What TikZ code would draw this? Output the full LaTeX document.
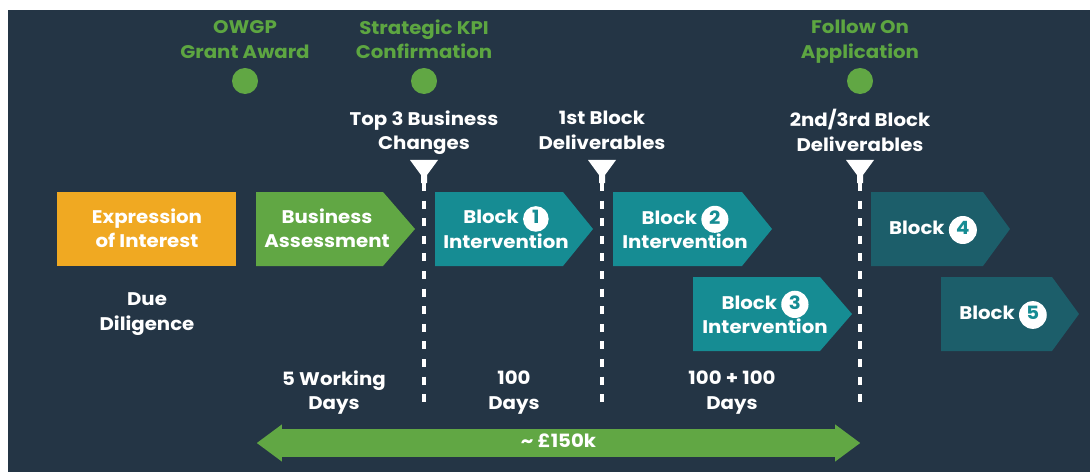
\documentclass[tikz,border=0pt]{standalone}
\usepackage{fontspec}
\setmainfont{Poppins}[FakeStretch=1.08]
\usetikzlibrary{shapes.arrows}

\definecolor{navy}{HTML}{243545}
\definecolor{eoiorange}{HTML}{F0A922}
\definecolor{mgreen}{HTML}{61A744}
\definecolor{gtext}{HTML}{5DA641}
\definecolor{bteal}{HTML}{168C93}
\definecolor{bdark}{HTML}{1C5E6A}

\tikzset{>=latex}
\tikzset{
  txt/.style={align=center, inner sep=0pt, font=\fontsize{13}{17.5}\selectfont\bfseries,
    execute at begin node=\strut, execute at end node=\strut},
  lbl/.style={txt, text=white},
  ms/.style={txt, text=gtext},
  dot/.style={circle, fill=mgreen, minimum size=0.65cm, inner sep=0pt},
  tick/.style={white, line width=0.1cm, dash pattern=on 0.2cm off 0.24cm},
}
% white disc with the block number
\newcommand{\blocknum}[2]{\tikz[baseline=(n.base)]\node[circle, fill=white, inner sep=0pt, minimum size=0.58cm, text=#1] (n) {#2};}

\begin{document}
\begin{tikzpicture}[x=0.025cm, y=-0.025cm]
  \useasboundingbox (0,0) rectangle (1090,472);
  \fill[navy] (8,10) rectangle (1090,472);

  % milestones
  \node[ms] (owgp) at (245,43) {OWGP\\Grant Award};
  \node[ms] (kpi) at (424,43) {Strategic KPI\\Confirmation};
  \node[ms] (follow) at (860,43) {Follow On\\Application};
  \foreach \X/\n in {245/1,424/2,860/3} { \node[dot] (dot\n) at (\X,81) {}; }

  % deliverable markers
  \node[lbl] (top3) at (424,134) {Top 3 Business\\Changes};
  \node[lbl] (first) at (602,134) {1st Block\\Deliverables};
  \node[lbl] (later) at (860,134) {2nd/3rd Block\\Deliverables};
  \foreach \X/\n in {424/1,602/2,860/3} {%
    \fill[white] (\X-14,160) -- (\X+14,160) -- (\X+3,175) -- (\X+3,183)
      -- (\X-3,183) -- (\X-3,175) -- cycle;
    \coordinate (top\n) at (\X,183);
    \coordinate (bot\n) at (\X,409);
    \draw[tick] (top\n) -- (bot\n);
  }

  % stages
  \fill[eoiorange] (57,192) rectangle (236,266);
  \foreach \X/\Y/\W/\T/\C in {256/192/127/32/mgreen, 435/192/128/30/bteal,
      613/192/129/30/bteal, 693/277/127/32/bteal,
      871/192/112/27/bdark, 941/277/111/27/bdark} {%
    \fill[\C] (\X,\Y) -- ++(\W,0) -- ++(\T,37) -- ++(-\T,37) -- ++(-\W,0) -- cycle;
  }
  \node[lbl] (eoi) at (147,232) {Expression\\of Interest};
  \node[lbl] (ba) at (327,232) {Business\\Assessment};
  \node[lbl] (blk1) at (506,231) {Block \blocknum{bteal}{1}\\Intervention};
  \node[lbl] (blk2) at (685,231) {Block \blocknum{bteal}{2}\\Intervention};
  \node[lbl] (blk3) at (765,316) {Block \blocknum{bteal}{3}\\Intervention};
  \node[lbl] (blk4) at (933,230) {Block \blocknum{bteal}{4}};
  \node[lbl] (blk5) at (1003,315) {Block \blocknum{bteal}{5}};

  % durations
  \node[lbl] (dd) at (147,315) {Due\\Diligence};
  \node[lbl] (wd) at (334,394) {5 Working\\Days};
  \node[lbl] (d100) at (514,394) {100\\Days};
  \node[lbl] (d200) at (732,394) {100 + 100\\Days};

  % funding
  \node[double arrow, fill=mgreen, lbl, minimum height=15.08cm, minimum width=0.93cm,
    double arrow head extend=0.11cm, double arrow tip angle=73] (cost) at (558.5,443)
    {\textasciitilde{} £150k};
\end{tikzpicture}
\end{document}
